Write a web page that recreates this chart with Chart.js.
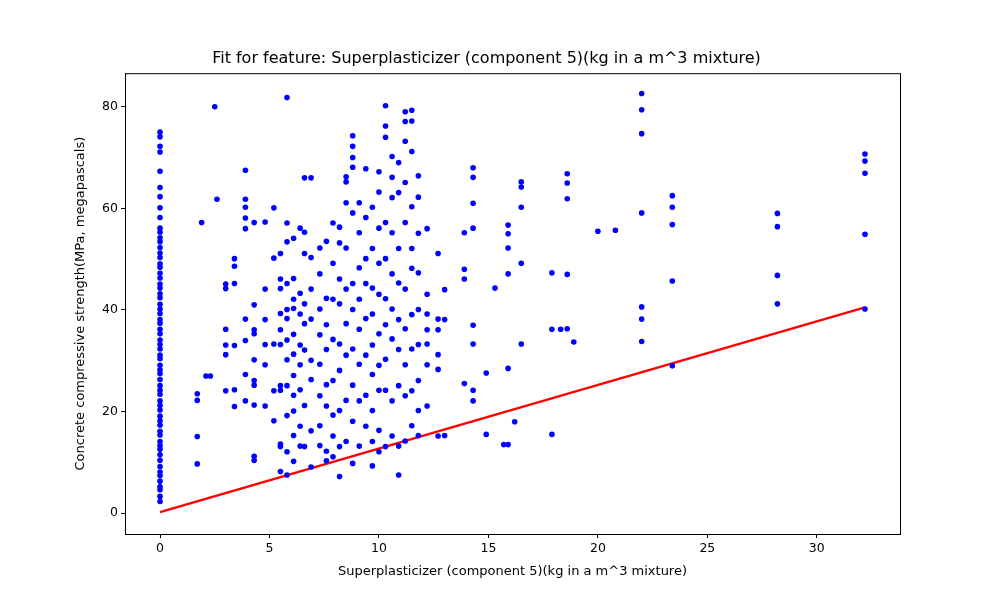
<!DOCTYPE html>
<html>
<head>
<meta charset="utf-8">
<script src="https://cdn.jsdelivr.net/npm/chart.js@4"></script>
<style>
  body { margin: 0; background: #fff; }
</style>
</head>
<body>
<canvas id="c" width="1000" height="600"></canvas>
<script>
// --- Data (estimated) ---
// each column: superplasticizer amount and the strengths found at it
const columnX = [0, 1.7, 1.9, 2.1, 2.3, 2.5, 2.6, 3.0, 3.4, 3.9, 4.3, 4.8, 5.2, 5.5, 5.8, 6.1, 6.4, 6.6, 6.9,
  7.3, 7.6, 7.9, 8.2, 8.5, 8.8, 9.1, 9.4, 9.7, 10.0, 10.3, 10.6, 10.9, 11.2, 11.5, 11.8, 12.2, 12.7, 13.0,
  13.9, 14.3, 14.9, 15.3, 15.7, 15.9, 16.2, 16.5, 17.9, 18.3, 18.6, 18.9, 20.0, 20.8, 22.0, 23.4, 28.2, 32.2];
const columnStrength = [
  [2.3, 3.3, 4.6, 5.2, 6.3, 7.4, 8.1, 9.2, 10.4, 11.5, 12.6, 13.3, 14.1, 15.4, 16.1, 17.3, 18.2, 19.1, 20.3, 21.2,
   22.1, 23.4, 24.2, 25.1, 26.3, 27.5, 28.2, 29.1, 30.4, 31.1, 32.3, 33.2, 34.1, 35.3, 36.2, 37.4, 38.1, 39.3, 40.2,
   41.1, 42.4, 43.2, 44.3, 45.1, 46.3, 47.2, 48.4, 49.1, 50.3, 51.2, 52.3, 53.4, 54.2, 55.3, 56.1, 58.2, 60.1, 62.3,
   64.1, 67.3, 71.1, 72.2, 74.1, 75.0],
  [9.7, 15.1, 22.2, 23.5], [57.2], [27.0], [27.0], [80.0], [61.8],
  [24.1, 31.2, 33.1, 36.2, 44.2, 45.1], [21.0, 24.3, 33.0, 45.2, 48.6, 50.1],
  [22.1, 27.3, 34.0, 38.2, 56.0, 58.1, 60.2, 61.8, 67.5],
  [10.4, 11.2, 21.3, 25.2, 26.1, 30.2, 35.3, 36.1, 41.0, 57.2],
  [21.1, 29.2, 33.2, 38.1, 44.1, 57.3], [18.2, 24.1, 33.3, 50.2, 60.1],
  [8.2, 13.1, 13.6, 24.2, 25.1, 33.2, 36.1, 39.3, 44.2, 46.1, 51.1],
  [7.5, 12.1, 19.2, 25.1, 30.2, 34.1, 38.3, 40.1, 45.2, 53.4, 57.1, 81.8],
  [10.2, 15.3, 20.1, 23.2, 27.1, 31.3, 35.2, 40.3, 42.1, 46.2, 54.1],
  [13.2, 17.1, 24.3, 29.2, 33.1, 39.2, 43.3, 56.1],
  [13.1, 21.2, 32.1, 37.3, 41.2, 51.1, 55.3, 66.0],
  [9.1, 16.2, 26.3, 30.1, 38.2, 44.1, 50.3, 66.0],
  [13.3, 17.2, 23.1, 29.3, 35.1, 40.2, 47.1, 52.2],
  [10.3, 12.2, 21.1, 25.3, 32.2, 37.1, 42.3, 53.5],
  [11.1, 15.2, 19.3, 26.1, 34.2, 42.1, 49.2, 57.1],
  [7.2, 13.1, 20.2, 28.1, 33.3, 41.2, 46.1, 53.2, 56.3],
  [14.1, 22.2, 31.1, 37.3, 44.1, 52.2, 61.1, 65.2, 66.2],
  [9.8, 18.1, 25.2, 32.3, 40.1, 45.2, 59.1, 68.1, 70.0, 72.2, 74.3],
  [13.2, 22.1, 29.3, 36.2, 42.1, 48.3, 55.2, 61.1],
  [17.1, 23.2, 31.1, 38.3, 45.2, 50.1, 58.2, 67.8],
  [9.3, 14.1, 20.2, 27.3, 33.1, 39.2, 44.3, 52.1, 60.2],
  [12.1, 16.3, 24.2, 29.1, 35.3, 43.1, 49.2, 56.1, 63.2, 67.2],
  [13.1, 24.2, 30.3, 37.1, 42.2, 50.1, 57.2, 74.0, 76.2, 80.2],
  [15.2, 22.1, 34.3, 40.2, 47.1, 55.2, 62.1, 66.1, 70.2],
  [7.5, 13.2, 25.1, 32.2, 38.1, 45.3, 52.1, 63.1, 69.0],
  [14.2, 23.1, 29.2, 36.3, 44.1, 57.2, 65.1, 73.2, 77.1, 79.0],
  [17.2, 24.1, 32.3, 39.1, 48.2, 52.1, 60.3, 71.2, 77.2, 79.3],
  [15.3, 20.2, 26.1, 33.2, 40.1, 47.3, 55.1, 62.2, 66.4],
  [21.1, 29.2, 33.3, 36.1, 39.2, 43.1, 56.0],
  [15.2, 28.3, 31.2, 36.1, 38.2, 51.1], [15.3, 38.1, 44.0],
  [25.5, 46.1, 48.0, 55.2], [22.1, 24.2, 33.3, 37.0, 56.1, 61.0, 66.1, 68.0],
  [15.5, 27.6], [44.3], [13.5], [13.5, 28.5, 47.1, 52.2, 55.0, 56.7], [18.0],
  [33.3, 49.2, 60.2, 64.2, 65.2], [15.5, 36.2, 47.3], [36.2], [36.3, 47.0, 61.9, 65.0, 66.8], [33.7],
  [55.5], [55.7], [33.8, 38.2, 40.6, 59.1, 74.7, 79.4, 82.6], [29.0, 45.7, 56.8, 60.2, 62.5],
  [41.2, 46.8, 56.4, 59.0], [40.2, 54.9, 66.9, 69.3, 70.7]
];
// fitted line end points
const fitX = [0, 32.2];
const fitY = [0.2, 40.5];
const xTicks = [0, 5, 10, 15, 20, 25, 30];
const yTicks = [0, 20, 40, 60, 80];

const scatterPoints = [];
columnX.forEach(function(x, i) {
    columnStrength[i].forEach(function(y) { scatterPoints.push({ x: x, y: y }); });
});
const fitPoints = fitX.map(function(x, i) { return { x: x, y: fitY[i] }; });

Chart.defaults.font.family = 'DejaVu Sans';
Chart.defaults.color = '#000';

function keepTicks(list) {
    return function(axis) { axis.ticks = list.map(function(v) { return { value: v }; }); };
}

// full box round the plot area, like matplotlib
const frame = {
    id: 'frame',
    afterDraw: function(chart) {
        const a = chart.chartArea, ctx = chart.ctx;
        ctx.save();
        ctx.strokeStyle = '#000';
        ctx.lineWidth = 1;
        ctx.strokeRect(a.left + 0.5, a.top + 0.5, a.right - a.left, a.bottom - a.top);
        ctx.restore();
    }
};

new Chart(document.getElementById('c').getContext('2d'), {
    type: 'scatter',
    data: {
        datasets: [{
            data: scatterPoints,
            backgroundColor: '#0000ff',
            borderColor: '#0000ff',
            pointRadius: 2.8,
            borderWidth: 0
        }, {
            type: 'line',
            data: fitPoints,
            borderColor: '#ff0000',
            borderWidth: 2.5,
            pointRadius: 0,
            fill: false
        }]
    },
    options: {
        responsive: false,
        animation: false,
        layout: { padding: { left: 73, right: 100, top: 0, bottom: 21 } },
        plugins: {
            legend: { display: false },
            tooltip: { enabled: false },
            title: {
                display: true,
                text: 'Fit for feature: Superplasticizer (component 5)(kg in a m^3 mixture)',
                font: { size: 16, weight: 'normal' },
                padding: { top: 49, bottom: 5 }
            }
        },
        scales: {
            x: {
                type: 'linear', min: -1.6, max: 33.8,
                afterBuildTicks: keepTicks(xTicks),
                afterFit: function(s) { s.height = 45; },
                grid: { drawOnChartArea: false, tickLength: 4, color: '#000' },
                border: { color: '#000' },
                ticks: { font: { size: 12.5 }, padding: 3 },
                title: { display: true, text: 'Superplasticizer (component 5)(kg in a m^3 mixture)', font: { size: 13 }, padding: 0 }
            },
            y: {
                type: 'linear', min: -4.1, max: 86.6,
                afterBuildTicks: keepTicks(yTicks),
                afterFit: function(s) { s.width = 52; },
                grid: { drawOnChartArea: false, tickLength: 4, color: '#000' },
                border: { color: '#000' },
                ticks: { font: { size: 12.5 }, padding: 3 },
                title: { display: true, text: 'Concrete compressive strength(MPa, megapascals)', font: { size: 13 }, padding: 0 }
            }
        }
    },
    plugins: [frame]
});
</script>
</body>
</html>
